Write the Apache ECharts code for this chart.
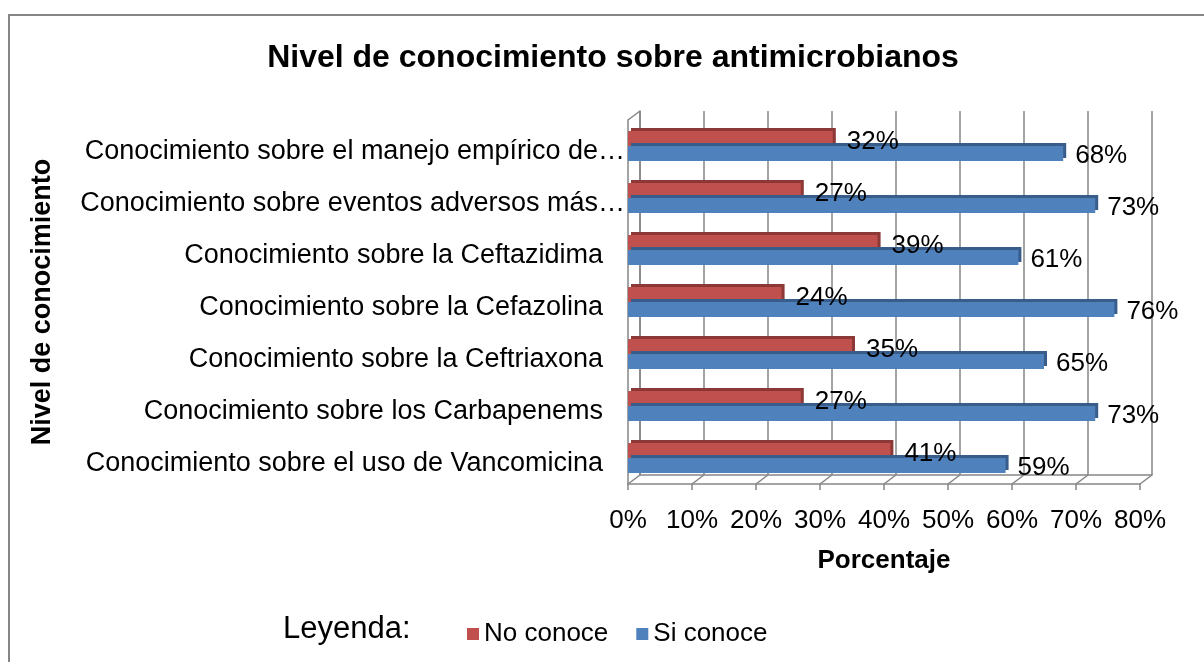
<!DOCTYPE html>
<html>
<head>
<meta charset="utf-8">
<script src="https://cdn.jsdelivr.net/npm/echarts@6/dist/echarts.min.js"></script>
<style>
html,body{margin:0;padding:0;background:#fff;}
#chart{width:1204px;height:662px;}
</style>
</head>
<body>
<div id="chart"></div>
<script>
const categories = [
  'Conocimiento sobre el manejo empírico de…',
  'Conocimiento sobre eventos adversos más…',
  'Conocimiento sobre la Ceftazidima',
  'Conocimiento sobre la Cefazolina',
  'Conocimiento sobre la Ceftriaxona',
  'Conocimiento sobre los Carbapenems',
  'Conocimiento sobre el uso de Vancomicina'
];
const noConoce = [32, 27, 39, 24, 35, 27, 41];
const siConoce = [68, 73, 61, 76, 65, 73, 59];
const xTicks = {min: 0, max: 80, interval: 10};
const tickValues = [0, 10, 20, 30, 40, 50, 60, 70, 80];

const FONT = '"Liberation Sans", Arial, sans-serif';
const GRAY = '#868686';
const chart = echarts.init(document.getElementById('chart'));

const gridL = 628, gridT = 120, gridW = 512, gridH = 364;
const dx = 12, dy = -9;

chart.setOption({
  backgroundColor: '#fff',
  animation: false,
  textStyle: {fontFamily: FONT, color: '#000'},
  title: {
    text: 'Nivel de conocimiento sobre antimicrobianos',
    left: 608, top: 37, textAlign: 'center',
    textStyle: {fontFamily: FONT, fontSize: 32, fontWeight: 'bold', color: '#000'}
  },
  legend: {
    data: ['No conoce', 'Si conoce'],
    left: 462, top: 616,
    itemWidth: 12, itemHeight: 12, itemGap: 28,
    icon: 'rect',
    textStyle: {fontFamily: FONT, fontSize: 26, color: '#000'}
  },
  graphic: [
    {type: 'rect', shape: {x: 9, y: 15, width: 1210, height: 670},
     style: {fill: 'none', stroke: GRAY, lineWidth: 2}, silent: true},
    {type: 'text', left: 283, top: 614,
     style: {text: 'Leyenda:', font: '31px ' + FONT, fill: '#000'}}
  ],
  grid: [
    {left: gridL, top: gridT, width: gridW, height: gridH},
    {left: gridL + dx, top: gridT + dy, width: gridW, height: gridH},
    {left: gridL, top: gridT + 6, width: gridW, height: gridH}
  ],
  xAxis: [
    {type: 'value', gridIndex: 0, min: xTicks.min, max: xTicks.max, interval: xTicks.interval,
     axisLine: {show: true, lineStyle: {color: GRAY, width: 1.5}},
     axisTick: {show: true, length: 6, lineStyle: {color: GRAY, width: 1.5}},
     splitLine: {show: false},
     axisLabel: {formatter: '{value}%', fontFamily: FONT, fontSize: 26, color: '#000', margin: 24},
     name: 'Porcentaje', nameLocation: 'middle', nameGap: 64,
     nameTextStyle: {fontFamily: FONT, fontSize: 26, fontWeight: 'bold', color: '#000'}},
    {type: 'value', gridIndex: 1, min: xTicks.min, max: xTicks.max, interval: xTicks.interval,
     axisLine: {show: true, lineStyle: {color: GRAY, width: 1.5}},
     axisTick: {show: false}, axisLabel: {show: false},
     splitLine: {show: true, lineStyle: {color: GRAY, width: 1.5}}},
    {type: 'value', gridIndex: 2, min: xTicks.min, max: xTicks.max, show: false}
  ],
  yAxis: [
    {type: 'category', gridIndex: 0, data: categories, inverse: true,
     axisLine: {show: true, lineStyle: {color: GRAY, width: 1.5}},
     axisTick: {show: false},
     axisLabel: {show: false},
     name: 'Nivel de conocimiento', nameLocation: 'middle', nameGap: 572, nameRotate: 90,
     nameTextStyle: {fontFamily: FONT, fontSize: 27, fontWeight: 'bold', color: '#000'}},
    {type: 'category', gridIndex: 1, data: categories, inverse: true,
     axisLine: {show: true, lineStyle: {color: GRAY, width: 1.5}},
     axisTick: {show: false}, axisLabel: {show: false}},
    {type: 'category', gridIndex: 2, data: categories, inverse: true,
     axisLine: {show: false}, axisTick: {show: false},
     axisLabel: {fontFamily: FONT, fontSize: 27, color: '#000', margin: 3,
       formatter: function (v) { return v.endsWith('…') ? '{t|' + v + '}' : '{n|' + v + '}'; },
       rich: {
         t: {fontFamily: FONT, fontSize: 27, color: '#000', padding: [0, 0, 0, 0]},
         n: {fontFamily: FONT, fontSize: 27, color: '#000', padding: [0, 22, 0, 0]}
       }}}
  ],
  series: [
    {name: 'No conoce', type: 'bar', xAxisIndex: 0, yAxisIndex: 0, data: noConoce,
     barWidth: 15, barGap: '0%',
     itemStyle: {color: '#C0504D', shadowColor: '#8C3836', shadowOffsetX: 3, shadowOffsetY: -3, shadowBlur: 0},
     label: {show: true, position: 'right', distance: 14, offset: [0, 3], formatter: '{c}%',
             fontFamily: FONT, fontSize: 26, color: '#000'}},
    {name: 'Si conoce', type: 'bar', xAxisIndex: 0, yAxisIndex: 0, data: siConoce,
     barWidth: 15, barGap: '0%',
     itemStyle: {color: '#4F81BD', shadowColor: '#385D8A', shadowOffsetX: 3, shadowOffsetY: -3, shadowBlur: 0},
     label: {show: true, position: 'right', distance: 12, offset: [0, 2], formatter: '{c}%',
             fontFamily: FONT, fontSize: 26, color: '#000'}},
    {type: 'custom', xAxisIndex: 0, yAxisIndex: 0, silent: true, clip: false, z: 1,
     data: tickValues,
     renderItem: function (params, api) {
       const v = api.value(0);
       const band = api.size([0, 1])[1];
       const pb = api.coord([v, categories[categories.length - 1]]);
       const bottom = pb[1] + band / 2;
       const children = [{type: 'line', shape: {x1: pb[0], y1: bottom, x2: pb[0] + dx, y2: bottom + dy},
         style: {stroke: GRAY, lineWidth: 1.5}}];
       if (v === 0) {
         const pt = api.coord([v, categories[0]]);
         const top = pt[1] - band / 2;
         children.push({type: 'line', shape: {x1: pt[0], y1: top, x2: pt[0] + dx, y2: top + dy},
           style: {stroke: GRAY, lineWidth: 1.5}});
       }
       return {type: 'group', children: children};
     }}
  ]
});
</script>
</body>
</html>
